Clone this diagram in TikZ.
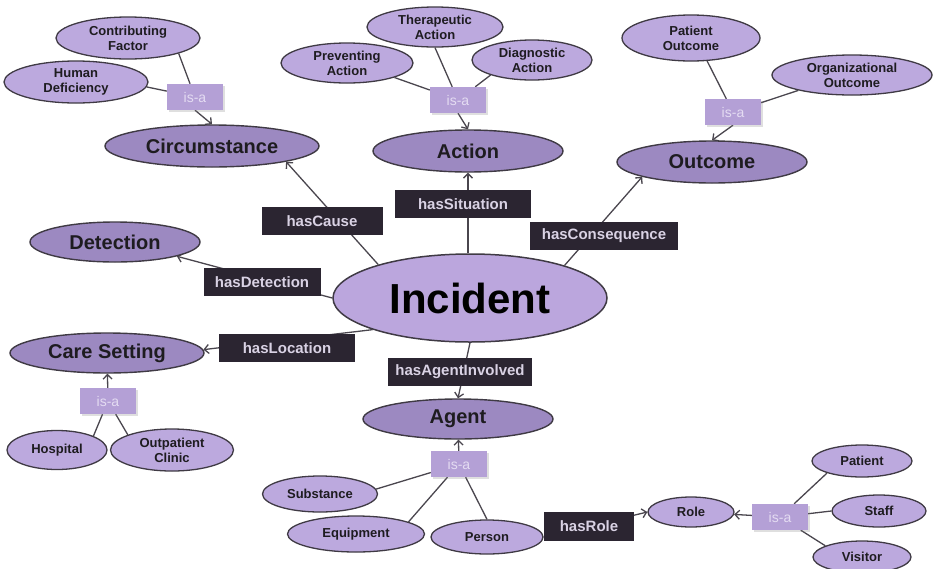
\documentclass[tikz,border=0pt]{standalone}
\usepackage{fontspec}
\setmainfont{Liberation Sans}
\usetikzlibrary{shapes.geometric,arrows.meta,shadows}
\pgfdeclarelayer{bg}
\pgfsetlayers{bg,main}
\definecolor{smallfill}{HTML}{BCA9DE}
\definecolor{bigfill}{HTML}{9C89C1}
\definecolor{incfill}{HTML}{BBA6DD}
\definecolor{edgec}{HTML}{3F3A44}
\definecolor{linec}{HTML}{4A464E}
\definecolor{textc}{HTML}{1E1C20}
\definecolor{boxfill}{HTML}{2B2531}
\definecolor{boxtext}{HTML}{D9D2E4}
\definecolor{isafill}{HTML}{B4A0D6}
\definecolor{isatext}{HTML}{E4DCF2}
\begin{document}
\begin{tikzpicture}[x=1pt,y=-1pt,
  sz/.style 2 args={minimum width=#1pt,minimum height=#2pt},
  cls/.style={ellipse, draw=edgec, line width=1.4pt, fill=bigfill, inner sep=0pt,
    text=textc, font=\bfseries\fontsize{20}{22}\selectfont},
  sub/.style={ellipse, draw=edgec, line width=1.3pt, fill=smallfill, inner sep=0pt,
    align=center, text=textc, font=\bfseries\fontsize{13}{15}\selectfont},
  rel/.style={rectangle, fill=boxfill, text=boxtext, inner sep=0pt,
    font=\bfseries\fontsize{15}{17}\selectfont},
  isa/.style={rectangle, fill=isafill, text=isatext, inner sep=0pt,
    minimum width=56pt, minimum height=26pt, font=\fontsize{14}{16}\selectfont,
    drop shadow={opacity=0.25, shadow xshift=1.5pt, shadow yshift=-1.5pt}},
  link/.style={draw=linec, line width=1.3pt},
  arr/.style={link, -{Straight Barb[length=4.5pt,width=9pt]}}
]
\useasboundingbox (0,0) rectangle (934,568);

% central class
\node[ellipse, draw=edgec, line width=1.5pt, fill=incfill, inner sep=0pt, sz={274}{88},
  text=black, font=\bfseries\fontsize{42}{46}\selectfont] (inc) at (470,298) {Incident};

% main classes
\node[cls, sz={214}{42}] (circ) at (212,146) {Circumstance};
\node[cls, sz={190}{42}] (action) at (468,151) {Action};
\node[cls, sz={190}{42}] (out) at (712,162) {Outcome};
\node[cls, sz={170}{40}] (det) at (115,242) {Detection};
\node[cls, sz={194}{40}] (cs) at (107,353) {Care Setting};
\node[cls, sz={190}{40}] (agent) at (458,419) {Agent};

% circumstance subclasses
\node[sub, sz={144}{42}] (cf) at (128,38) {Contributing\\Factor};
\node[sub, sz={144}{42}] (hd) at (76,82) {Human\\Deficiency};
\node[isa] (isaC) at (195,97) {is-a};

% action subclasses
\node[sub, sz={132}{40}] (pa) at (347,63) {Preventing\\Action};
\node[sub, sz={136}{40}] (ta) at (435,27) {Therapeutic\\Action};
\node[sub, sz={120}{40}] (da) at (532,60) {Diagnostic\\Action};
\node[isa] (isaAct) at (458,100) {is-a};

% outcome subclasses
\node[sub, sz={138}{46}] (po) at (691,38) {Patient\\Outcome};
\node[sub, sz={160}{40}] (oo) at (852,75) {Organizational\\Outcome};
\node[isa] (isaO) at (733,112) {is-a};

% care setting subclasses
\node[isa] (isaCS) at (108,401) {is-a};
\node[sub, sz={100}{39}] (hosp) at (57,450) {Hospital};
\node[sub, sz={123}{42}] (oc) at (172,450) {Outpatient\\Clinic};

% agent subclasses
\node[isa] (isaA) at (459,464) {is-a};
\node[sub, sz={115}{36}] (subst) at (320,494) {Substance};
\node[sub, sz={137}{36}] (eq) at (356,534) {Equipment};
\node[sub, sz={112}{34}] (per) at (487,537) {Person};

% roles
\node[sub, sz={86}{30}] (role) at (691,512) {Role};
\node[isa] (isaR) at (780,517) {is-a};
\node[sub, sz={100}{32}] (pat) at (862,461) {Patient};
\node[sub, sz={94}{32}] (staff) at (879,511) {Staff};
\node[sub, sz={98}{32}] (vis) at (862,557) {Visitor};

% relation labels
\node[rel, sz={121}{28}] (hc) at (322,221) {hasCause};
\node[rel, sz={136}{28}] (hs) at (463,204) {hasSituation};
\node[rel, sz={148}{28}] (hcons) at (604,236) {hasConsequence};
\node[rel, sz={117}{28}] (hdet) at (262,282) {hasDetection};
\node[rel, sz={136}{28}] (hloc) at (287,348) {hasLocation};
\node[rel, sz={144}{28}] (hai) at (460,372) {hasAgentInvolved};
\node[rel, sz={90}{29}] (hrole) at (589,526) {hasRole};

\begin{pgfonlayer}{bg}
  % properties of Incident
  \draw[arr] (inc.160) -- (circ.-12);
  \draw[arr] (inc.north -| action) -- (action);
  \draw[arr] (inc.19) -- (out.192);
  \draw[arr] (inc.180) -- (det.-13);
  \draw[arr] (inc.198) -- (cs.2);
  \draw[arr] (inc.south) -- (agent.north);
  \draw[arr] (per.east) -- (role.west);
  % subclass links
  \draw[link] (cf.-17) -- (isaC);
  \draw[link] (hd.-4) -- (isaC);
  \draw[arr] (isaC.south) -- (circ.north);
  \draw[link] (pa.-17) -- (isaAct);
  \draw[link] (ta.south) -- (isaAct);
  \draw[link] (da.200) -- (isaAct);
  \draw[arr] (isaAct.south) -- (action.north);
  \draw[link] (po.-55) -- (isaO);
  \draw[link] (oo.196) -- (isaO);
  \draw[arr] (isaO.south) -- (out.north);
  \draw[arr] (isaCS) -- (cs);
  \draw[link] (hosp.21) -- (isaCS);
  \draw[link] (oc.161) -- (isaCS);
  \draw[arr] (isaA) -- (agent);
  \draw[link] (subst.5) -- (isaA);
  \draw[link] (eq.13) -- (isaA);
  \draw[link] (per.north) -- (isaA);
  \draw[arr] (isaR) -- (role);
  \draw[link] (pat.199) -- (isaR);
  \draw[link] (staff.west) -- (isaR);
  \draw[link] (vis.163) -- (isaR);
\end{pgfonlayer}
\end{tikzpicture}
\end{document}
